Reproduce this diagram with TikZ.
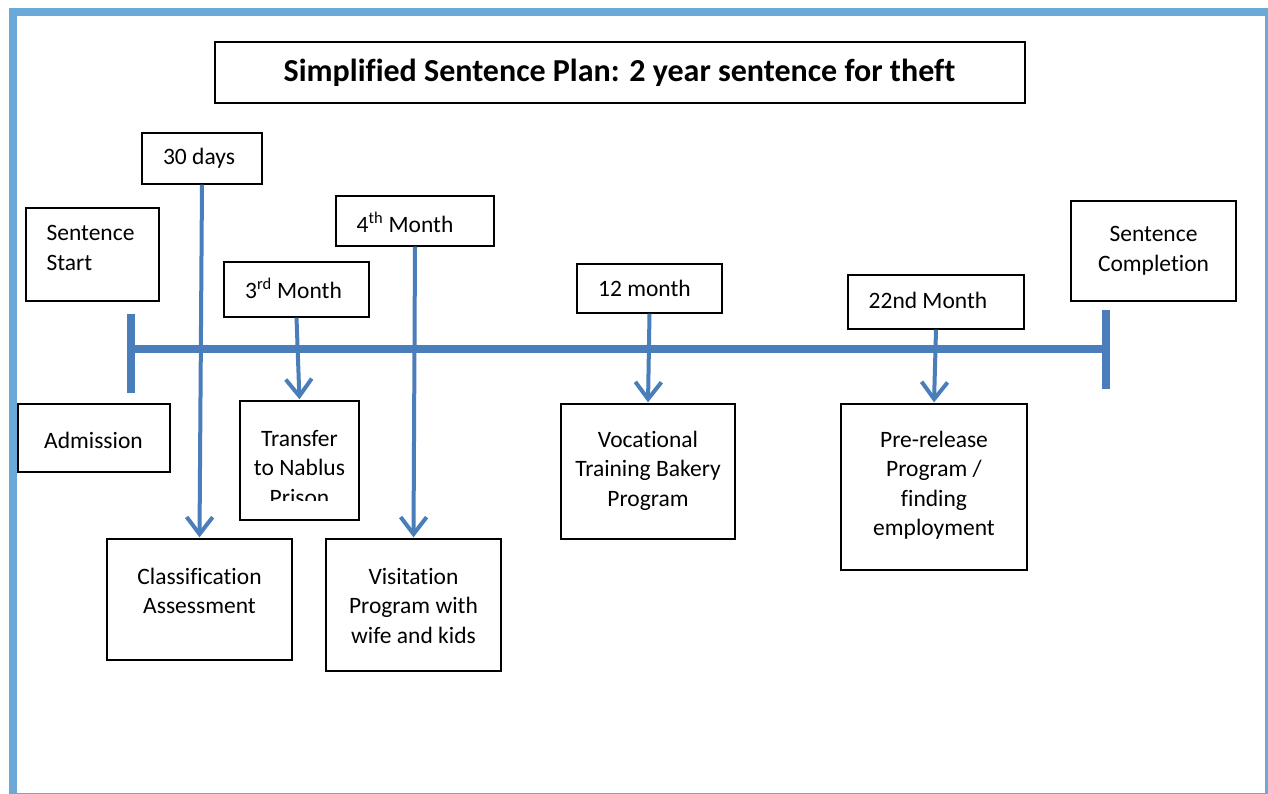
\documentclass[tikz,border=0pt]{standalone}
\usepackage{fontspec}
\setmainfont[Ligatures=NoCommon]{Carlito}
\usetikzlibrary{arrows.meta}
\definecolor{framebl}{RGB}{107,170,216}
\definecolor{linebl}{RGB}{74,126,187}
\begin{document}
\begin{tikzpicture}[x=1pt,y=-1pt,
  box/.style={draw=black, line width=1.3pt, inner sep=0pt},
  txt/.style={font=\fontsize{23.5}{29.5}\selectfont, align=center, inner sep=0pt},
  ttl/.style={font=\fontsize{32}{38}\selectfont\bfseries, inner sep=0pt},
  conn/.style={draw=linebl, line width=4pt, -{Straight Barb[length=17pt,width=26pt,line width=4pt]}, shorten >=1pt},
  tline/.style={draw=linebl, line width=8.5pt}
]
\clip (0,0) rectangle (1268,794);
\useasboundingbox (0,0) rectangle (1268,794);
\fill[white] (0,0) rectangle (1268,794);
% frame
\draw[framebl, line width=8pt] (13,12) rectangle (1269,797);

% title
\node[box, minimum width=810pt, minimum height=61pt] (title) at (620,72.5) {};
\node[ttl] (titletext) at (619.5,73) {Simplified Sentence Plan: 2 year sentence for theft};

% top boxes
\node[box, minimum width=120pt, minimum height=51pt] (d30) at (202,158.5) {};
\node[txt] (d30t) at (199,158) {30 days};
\node[box, minimum width=133pt, minimum height=93pt] (start) at (92.5,254.5) {};
\node[txt, align=left] (startt) at (90.5,248) {Sentence\\Start};
\node[box, minimum width=158pt, minimum height=50pt] (m4) at (415,221) {};
\node[txt] (m4t) at (405,222) {4\textsuperscript{th} Month};
\node[box, minimum width=145pt, minimum height=55pt] (m3) at (296.5,289.5) {};
\node[txt] (m3t) at (293.5,288) {3\textsuperscript{rd} Month};
\node[box, minimum width=145pt, minimum height=49pt] (m12) at (649.5,288.5) {};
\node[txt] (m12t) at (644.5,288) {12 month};
\node[box, minimum width=176pt, minimum height=54pt] (m22) at (936,302) {};
\node[txt] (m22t) at (928,300) {22nd Month};
\node[box, minimum width=165pt, minimum height=100pt] (compl) at (1153.5,251) {};
\node[txt] (complt) at (1153.5,251) {Sentence\\Completion};

% bottom boxes
\node[box, minimum width=152pt, minimum height=68pt] (adm) at (94,438) {};
\node[txt] (admt) at (93.5,440) {Admission};
\node[box, minimum width=119pt, minimum height=119pt] (trans) at (299.5,460.5) {};
\begin{scope}
\clip (240,401) rectangle (359,500);
\node[txt] (transt) at (299.5,468) {Transfer\\to Nablus\\Prison};
\end{scope}
\node[box, minimum width=185pt, minimum height=121pt] (cls) at (199.5,599.5) {};
\node[txt] (clst) at (199.5,591) {Classification\\Assessment};
\node[box, minimum width=175pt, minimum height=132pt] (vis) at (413.5,605) {};
\node[txt] (vist) at (413.5,605.5) {Visitation\\Program with\\wife and kids};
\node[box, minimum width=174pt, minimum height=135pt] (voc) at (648,471.5) {};
\node[txt] (voct) at (648,470.5) {Vocational\\Training Bakery\\Program};
\node[box, minimum width=186pt, minimum height=166pt] (pre) at (934,487) {};
\node[txt] (pret) at (934,485) {Pre-release\\Program /\\finding\\employment};

% timeline
\coordinate (tl) at (131,349);
\coordinate (tr) at (1106,349);
\coordinate (tlt) at (131,314);
\coordinate (tlb) at (131,393);
\coordinate (trt) at (1106,310);
\coordinate (trb) at (1106,389);
\draw[tline] (tl) -- (tr);
\draw[tline] (tlt) -- (tlb);
\draw[tline] (trt) -- (trb);

% connectors
\draw[conn] (d30.south) -- (cls.north);
\draw[conn] (m3.south) -- (trans.north);
\draw[conn] (m4.south) -- (vis.north);
\draw[conn] (m12.south) -- (voc.north);
\draw[conn] (m22.south) -- (pre.north);
\end{tikzpicture}
\end{document}
